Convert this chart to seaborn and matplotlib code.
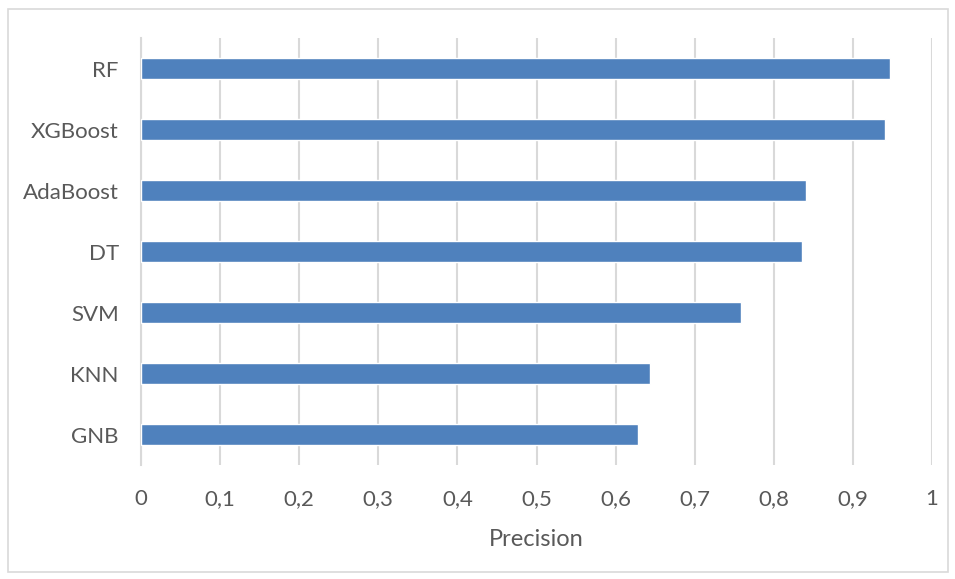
import matplotlib.pyplot as plt
import matplotlib.patches as mpatches
import seaborn as sns
import pandas as pd

# values
models = ["RF", "XGBoost", "AdaBoost", "DT", "SVM", "KNN", "GNB"]
precision = [0.947, 0.940, 0.841, 0.836, 0.758, 0.643, 0.628]
x_ticks = [0, 0.1, 0.2, 0.3, 0.4, 0.5, 0.6, 0.7, 0.8, 0.9, 1]

df = pd.DataFrame({"model": models, "precision": precision})

sns.set_style("white")
plt.rcParams["font.family"] = ["Lato", "DejaVu Sans"]

fig = plt.figure(figsize=(9.55, 5.79), dpi=100)
ax = fig.add_axes([141 / 955, 1 - 465 / 579, (932 - 141) / 955, (465 - 38) / 579])

sns.barplot(data=df, x="precision", y="model", orient="h", color="#4f81bd",
            width=0.34, saturation=1, ax=ax, zorder=3)

ax.set_xlim(0, 1)
ax.set_ylim(6.5, -0.5)
ax.set_xticks(x_ticks)
ax.set_xticklabels([f"{t:g}".replace(".", ",") for t in x_ticks])
ax.grid(axis="x", color="#d9d9d9", linewidth=1.5, zorder=0)
ax.set_axisbelow(True)
for side in ["top", "right", "bottom"]:
    ax.spines[side].set_visible(False)
ax.spines["left"].set_color("#d9d9d9")
ax.spines["left"].set_linewidth(1.5)

ax.tick_params(axis="both", length=0, labelsize=16, labelcolor="#595959")
ax.tick_params(axis="x", pad=17.5)
ax.tick_params(axis="y", pad=16)
ax.set_xlabel("Precision", fontsize=17, color="#595959", labelpad=14)
ax.set_ylabel("")

# light frame around the whole chart area
fig.patches.append(mpatches.Rectangle((8 / 955, 7 / 579), 940 / 955, 563 / 579,
                                      transform=fig.transFigure, fill=False,
                                      edgecolor="#d9d9d9", linewidth=1.2))

fig.savefig("out.png", dpi=100)
